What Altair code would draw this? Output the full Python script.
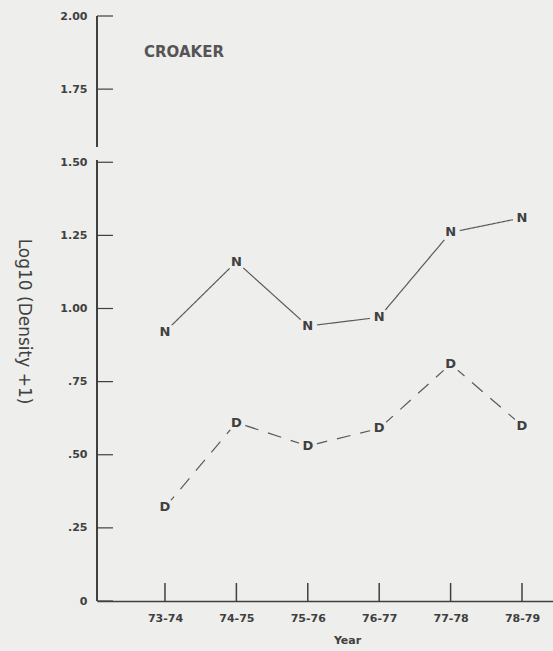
import altair as alt
import pandas as pd

years = ["73-74", "74-75", "75-76", "76-77", "77-78", "78-79"]
n_values = [0.92, 1.16, 0.94, 0.97, 1.26, 1.31]
d_values = [0.32, 0.61, 0.53, 0.59, 0.81, 0.60]
y_ticks = [0, 0.25, 0.5, 0.75, 1.0, 1.25, 1.5, 1.75, 2.0]
y_tick_labels = ["0", ".25", ".50", ".75", "1.00", "1.25", "1.50", "1.75", "2.00"]

BG = "#eeeeec"
INK = "#404040"
FONT = "DejaVu Sans"

rows = []
for i, yr in enumerate(years):
    rows.append({"idx": i, "year": yr, "value": n_values[i], "series": "N"})
    rows.append({"idx": i, "year": yr, "value": d_values[i], "series": "D"})
df = pd.DataFrame(rows)

ticks_df = pd.DataFrame({"idx": list(range(len(years)))})
yt_df = pd.DataFrame({"v": y_ticks})
axis_df = pd.DataFrame({"y0": [0.0, 1.552], "y1": [1.508, 2.0]})

label_map = "{" + ",".join(f"'{i}':'{y}'" for i, y in enumerate(years)) + "}"
ylab_map = "{" + ",".join(f"'{v:g}':'{l}'" for v, l in zip(y_ticks, y_tick_labels)) + "}"

xscale = alt.Scale(domain=[-0.952, 5.434], nice=False, zero=False)
yscale = alt.Scale(domain=[0, 2], nice=False)

base = alt.Chart(df)

xenc = alt.X(
    "idx:Q", scale=xscale,
    axis=alt.Axis(
        values=list(range(len(years))),
        labelExpr=f"{label_map}[datum.value]",
        title="Year", grid=False, ticks=False, domain=True,
        domainColor=INK, domainWidth=1.5,
        labelFont=FONT, labelFontSize=11, labelFontWeight="bold", labelColor=INK,
        labelPadding=11, titleFont=FONT, titleFontSize=11, titleFontWeight="bold",
        titleColor=INK, titleX=250, titleY=39, titleBaseline="middle", titleAlign="center",
    ),
)
yenc = alt.Y(
    "value:Q", scale=yscale,
    axis=alt.Axis(
        values=y_ticks, labelExpr=f"{ylab_map}[datum.value]",
        title="Log10 (Density +1)", titleAngle=90, grid=False, ticks=False, domain=False,
        labelFont=FONT, labelFontSize=11, labelFontWeight="bold", labelColor=INK,
        labelPadding=10, titleFont=FONT, titleFontSize=17, titleFontWeight="normal",
        titleColor=INK, titleX=-74, titleY=305, titleBaseline="middle", titleAlign="center",
    ),
)

lines = base.mark_line(color="#5a5a5a", strokeWidth=1.2).encode(
    x=xenc, y=yenc,
    strokeDash=alt.StrokeDash(
        "series:N",
        scale=alt.Scale(domain=["N", "D"], range=[[1, 0], [14, 10]]),
        legend=None,
    ),
    detail="series:N",
)

gaps = base.mark_point(filled=True, color=BG, opacity=1, size=360, shape="circle").encode(
    x="idx:Q", y="value:Q"
)

letters = base.mark_text(
    font=FONT, fontSize=13, fontWeight="bold", color=INK, baseline="middle", align="center"
).encode(x="idx:Q", y="value:Q", text="series:N")

ytick_marks = alt.Chart(yt_df).mark_rule(color=INK, strokeWidth=1.2).encode(
    y=alt.Y("v:Q", scale=yscale), x=alt.value(0), x2=alt.value(16)
)
xtick_marks = alt.Chart(ticks_df).mark_rule(color=INK, strokeWidth=1.5).encode(
    x=alt.X("idx:Q", scale=xscale), y=alt.value(567), y2=alt.value(585)
)
yaxis_line = alt.Chart(axis_df).mark_rule(color=INK, strokeWidth=2).encode(
    x=alt.value(0),
    y=alt.Y("y0:Q", scale=yscale),
    y2="y1:Q",
)

label = alt.Chart(pd.DataFrame({"t": ["CROAKER"]})).mark_text(
    font=FONT, fontSize=15, fontWeight="bold", color="#555555", align="left", baseline="middle"
).encode(x=alt.value(47), y=alt.value(36), text="t:N")

chart = alt.layer(
    lines, gaps, letters, ytick_marks, xtick_marks, yaxis_line, label
).properties(
    width=456, height=585,
    autosize=alt.AutoSizeParams(type="none"),
    padding={"left": 97, "top": 16, "right": 0, "bottom": 50},
    background=BG,
).configure_view(stroke=None)

chart.save("out.html", embed_options={"renderer": "svg", "actions": False})
